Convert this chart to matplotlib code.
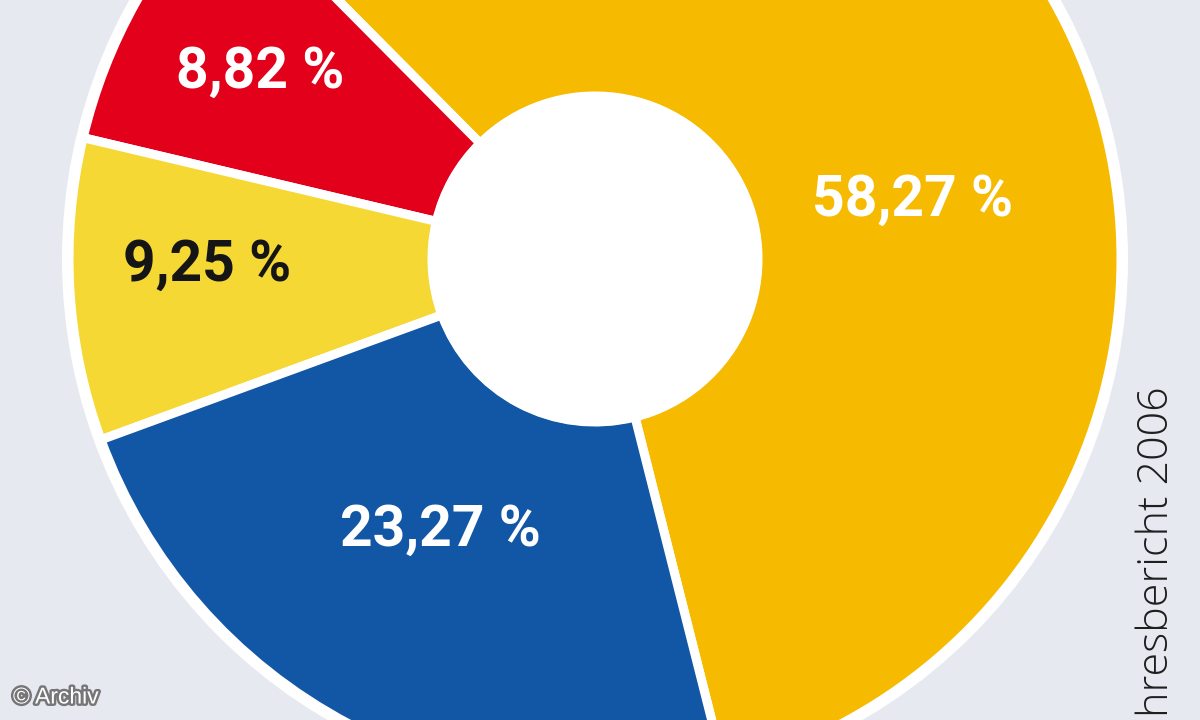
import matplotlib
matplotlib.use("Agg")
import matplotlib.pyplot as plt
from matplotlib.patches import Circle
import matplotlib.patheffects as pe

# ---- data ----
categories = ["A", "B", "C", "D"]
shares = [58.27, 8.82, 9.25, 23.27]
labels = ["58,27 %", "8,82 %", "9,25 %", "23,27 %"]
colors = ["#f6bb00", "#e2001b", "#f6d834", "#1257a5"]
label_colors = ["white", "white", "#151515", "white"]
source_text = "hresbericht 2006"
credit_text = "\u00a9 Archiv"

# ---- layout (pixel coordinates, y up) ----
bg = "#e6e9f0"
cx, cy = 595, 461
R_outer = 526
R_inner = 163
label_pos = [(913, 520), (260, 648), (207, 455), (440, 190)]

fig = plt.figure(figsize=(12, 7.2), dpi=100)
fig.patch.set_facecolor(bg)
ax = fig.add_axes([0, 0, 1, 1])
ax.set_facecolor(bg)

ax.add_patch(Circle((cx, cy), 533, facecolor="white", edgecolor="none", zorder=0))
wedges, _ = ax.pie(shares, colors=colors, startangle=-75.8, counterclock=True,
                   center=(cx, cy), radius=R_outer,
                   wedgeprops=dict(width=R_outer - R_inner, edgecolor="white",
                                   linewidth=6.5))
ax.add_patch(Circle((cx, cy), 167, facecolor="white", edgecolor="none", zorder=5))

ax.set_xlim(0, 1200)
ax.set_ylim(0, 720)
ax.set_aspect("equal")
ax.axis("off")

for (x, y), txt, c in zip(label_pos, labels, label_colors):
    ax.text(x, y, txt, ha="center", va="center", color=c, fontsize=41,
            fontfamily="Roboto", fontweight="bold", zorder=6)

ax.text(1157, 3, source_text, rotation=90, ha="center", va="bottom",
        color="#1e1e1e", fontsize=31, fontfamily="Open Sans", fontweight="light",
        zorder=6)

ax.text(13, 23, credit_text, ha="left", va="center", color="white",
        fontsize=16.5, fontfamily="Liberation Sans", zorder=7,
        path_effects=[pe.withStroke(linewidth=3.5, foreground="#5a5a5a", alpha=0.8)])

fig.savefig("out.png", dpi=100, facecolor=bg)
